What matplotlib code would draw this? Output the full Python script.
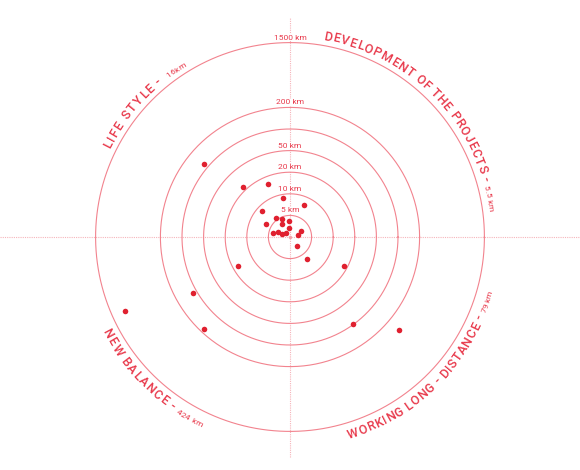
import numpy as np
import matplotlib
matplotlib.use('Agg')
import matplotlib.pyplot as plt
from matplotlib.font_manager import FontProperties

# 距离圈 (km) 和对应的半径位置
ring_km = [0, 5, 10, 20, 50, 100, 200, 1500]
ring_pos = [0, 1, 2, 3, 4, 5, 6, 9]
ring_labels = ['', '5 km', '10 km', '20 km', '50 km', '', '200 km', '1500 km']

# 每个点: 距离(km) 和 方向(度)
dist_km = [124, 25.7, 16.5, 9.05, 8.0, 8.9, 5.4, 4.6, 3.6, 6.35, 3.4, 2.2, 3.0,
           4.0, 3.05, 1.9, 1.25, 2.0, 2.7, 6.35, 17.6, 18.3, 119, 186, 100, 1227, 477]
angle_deg = [139.8, 133.4, 112.3, 99.9, 65.9, 137.6, 125.4, 113.2, 93.7, 151, 121.6, 97.4, 27.6,
             165.9, 159, 160.7, 137, 11.3, -50.9, -52.4, -150.7, -28.4, -149.9, -133.1, -54, -155.7, -40.6]

# 圈外文字
titles = ['LIFE STYLE -', 'DEVELOPMENT OF THE PROJECTS -', 'NEW BALANCE -', 'WORKING LONG - DISTANCE -']
subtitles = ['16km', '5.5 km', '424 km', '79 km']

FONT = ['Roboto', 'DejaVu Sans']
TXT = '#e8394b'
RING = '#f2838e'
DOT = '#e0202f'
PX = 21.6  # 每个单位的像素

fig = plt.figure(figsize=(5.8, 4.7), dpi=100)
ax = fig.add_axes([0, 0, 1, 1])
ax.set_xlim(-290 / PX, 290 / PX)
ax.set_ylim(-233 / PX, 237 / PX)
ax.axis('off')
renderer = fig.canvas.get_renderer()

# 十字线
ax.axhline(0, color='#f6b4ba', lw=0.8, ls=(0, (1, 1)), zorder=0)
ax.plot([0, 0], [-10.2, 10.2], color='#f6b4ba', lw=0.8, ls=(0, (1, 1)), zorder=0)

# 圆圈
t = np.linspace(0, 2 * np.pi, 400)
for p, lab in zip(ring_pos[1:], ring_labels[1:]):
    ax.plot(p * np.cos(t), p * np.sin(t), color=RING, lw=0.8, zorder=1)
    if lab:
        ax.text(0, p + 5 / PX, lab, fontsize=6, color=TXT, ha='center', va='center',
                family=FONT, zorder=3,
                bbox=dict(boxstyle='square,pad=0.05', fc='white', ec='none'))

# 点
r = np.interp(dist_km, ring_km, ring_pos)
th = np.radians(angle_deg)
ax.scatter(r * np.cos(th), r * np.sin(th), s=16, color=DOT, lw=0, zorder=4)
ax.scatter([0], [0], s=6, color='#f4a3aa', lw=0, zorder=4)


def w(s, fp):
    return renderer.get_text_width_height_descent(s, fp, ismath=False)[0]


def arc_text(txt, start, end, r_px, size, top, weight='normal'):
    # 沿圆弧逐字排列, 按起止角度调整字距
    fp = FontProperties(family=FONT, size=size, weight=weight)
    base = w('||', fp)
    advs = [w('|' + ch + '|', fp) - base for ch in txt]
    k = abs(np.radians(end - start)) * r_px / sum(advs)
    sign = -1 if top else 1
    s = 0.0
    for ch, adv in zip(txt, advs):
        adv *= k
        a = np.radians(start) + sign * (s + adv / 2) / r_px
        rot = np.degrees(a) - 90 if top else np.degrees(a) + 90
        ax.text(r_px / PX * np.cos(a), r_px / PX * np.sin(a), ch, fontproperties=fp,
                color=TXT, rotation=rot, rotation_mode='anchor', ha='center', va='baseline')
        s += adv


title_span = [(154, 129.5), (80.5, 16), (-153.5, -124.2), (-74, -22.3)]
sub_span = [(127.5, 121.2), (14.7, 7.2), (-123.1, -115), (-21.3, -15.2)]
tops = [True, True, False, False]
radii = [200, 200, 210, 210]
for title, sub, (a0, a1), (b0, b1), tp, rr in zip(titles, subtitles, title_span, sub_span, tops, radii):
    arc_text(title, a0, a1, rr, 9, tp, weight='medium')
    arc_text(sub, b0, b1, rr, 6, tp)

fig.savefig('out.png', dpi=100)
